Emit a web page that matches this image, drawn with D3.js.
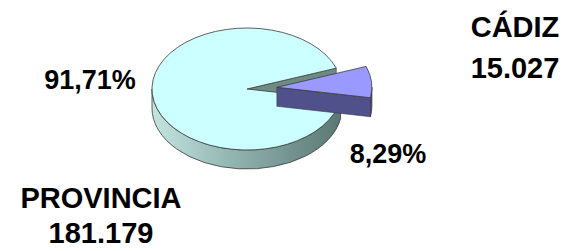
<!DOCTYPE html>
<html>
<head>
<meta charset="utf-8">
<script src="https://cdn.jsdelivr.net/npm/d3@7"></script>
<style>
  body { margin: 0; background: #fff; }
  text { font-family: "Liberation Sans", Arial, sans-serif; font-weight: bold; fill: #000; }
</style>
</head>
<body>
<div id="chart"></div>
<script>
// data
var categories = ["CÁDIZ", "PROVINCIA"];
var totals = [15027, 181179];
var shares = [8.29, 91.71];

var W = 570, H = 251;
var cx = 247, cy = 89, rx = 95, ry = 61, depth = 19;
var explode = 30;

var es = d3.formatLocale({decimal: ",", thousands: ".", grouping: [3], currency: ["", ""]});
var fmtPct = es.format(".2f");
var fmtNum = es.format(",");

var svg = d3.select("#chart").append("svg")
    .attr("width", W)
    .attr("height", H);

var defs = svg.append("defs");
var grad = defs.append("linearGradient")
    .attr("id", "sideGrad")
    .attr("gradientUnits", "userSpaceOnUse")
    .attr("x1", cx - rx).attr("y1", 0)
    .attr("x2", cx + rx).attr("y2", 0);
grad.append("stop").attr("offset", 0).attr("stop-color", "#c4e4e0");
grad.append("stop").attr("offset", 0.45).attr("stop-color", "#8fb2ae");
grad.append("stop").attr("offset", 1).attr("stop-color", "#5a7672");

var colors = {
    top: ["#9999ff", "#ccffff"],
    side: ["#50508a", "url(#sideGrad)"],
    cut: ["#50508a", "#6f8a82"]
};

// d3 angle (clockwise from 12 o'clock) -> screen angle from +x
var pie = d3.pie().sort(null)
    .startAngle(70 * Math.PI / 180)
    .endAngle(430 * Math.PI / 180);
var arcs = pie(shares);

function pt(c, phi, dz) {
    return [c[0] + rx * Math.cos(phi), c[1] + ry * Math.sin(phi) + (dz || 0)];
}

function topPath(c, p0, p1) {
    var a = pt(c, p0), b = pt(c, p1);
    var large = (p1 - p0) > Math.PI ? 1 : 0;
    return "M" + c[0] + "," + c[1] + "L" + a + "A" + rx + "," + ry + " 0 " + large + " 1 " + b + "Z";
}

function rimPath(c, p0, p1) {
    var a = pt(c, p0), b = pt(c, p1), a2 = pt(c, p0, depth), b2 = pt(c, p1, depth);
    return "M" + a + "A" + rx + "," + ry + " 0 0 1 " + b + "L" + b2 +
        "A" + rx + "," + ry + " 0 0 0 " + a2 + "Z";
}

function cutPath(c, phi) {
    var a = pt(c, phi);
    return "M" + c[0] + "," + c[1] + "L" + a + "L" + [a[0], a[1] + depth] +
        "L" + [c[0], c[1] + depth] + "Z";
}

var g = svg.append("g");

// big slice first, exploded one on top
[1, 0].forEach(function(i) {
    var d = arcs[i];
    var p0 = d.startAngle - Math.PI / 2;
    var p1 = d.endAngle - Math.PI / 2;
    var mid = (p0 + p1) / 2;
    var c = [cx, cy];
    if (i === 0) {
        c = [cx + explode * Math.cos(mid), cy + explode * Math.sin(mid) * ry / rx];
    }
    // normalise start into [-pi, pi)
    var k = Math.floor((p0 + Math.PI) / (2 * Math.PI));
    p0 -= k * 2 * Math.PI; p1 -= k * 2 * Math.PI;

    // visible outer rim (front half)
    var r0 = Math.max(p0, 0), r1 = Math.min(p1, Math.PI);
    if (r1 > r0) {
        g.append("path").attr("d", rimPath(c, r0, r1))
            .attr("fill", colors.side[i])
            .attr("stroke", "#3a3a3a").attr("stroke-width", 0.8);
    }
    // cut faces facing the viewer
    if (Math.cos(p1) > 0) {
        g.append("path").attr("d", cutPath(c, p1))
            .attr("fill", colors.cut[i])
            .attr("stroke", "#3a3a3a").attr("stroke-width", 0.6);
    }
    if (Math.cos(p0) < 0) {
        g.append("path").attr("d", cutPath(c, p0))
            .attr("fill", colors.cut[i])
            .attr("stroke", "#3a3a3a").attr("stroke-width", 0.6);
    }
    g.append("path").attr("d", topPath(c, p0, p1))
        .attr("fill", colors.top[i])
        .attr("stroke", "#3a3a3a").attr("stroke-width", 0.8);
});

// labels
var pctPos = [[388, 163], [90, 89]];
svg.selectAll("text.pct")
    .data(shares)
    .enter().append("text")
    .attr("class", "pct")
    .attr("text-anchor", "middle")
    .attr("font-size", 27)
    .attr("x", function(d, i) { return pctPos[i][0]; })
    .attr("y", function(d, i) { return pctPos[i][1]; })
    .text(function(d) { return fmtPct(d) + "%"; });

var namePos = [[515, 37, 78], [101, 208, 243]];
categories.forEach(function(name, i) {
    svg.append("text")
        .attr("text-anchor", "middle")
        .attr("font-size", 29)
        .attr("x", namePos[i][0]).attr("y", namePos[i][1])
        .text(name);
    svg.append("text")
        .attr("text-anchor", "middle")
        .attr("font-size", 29)
        .attr("x", namePos[i][0]).attr("y", namePos[i][2])
        .text(fmtNum(totals[i]));
});
</script>
</body>
</html>
